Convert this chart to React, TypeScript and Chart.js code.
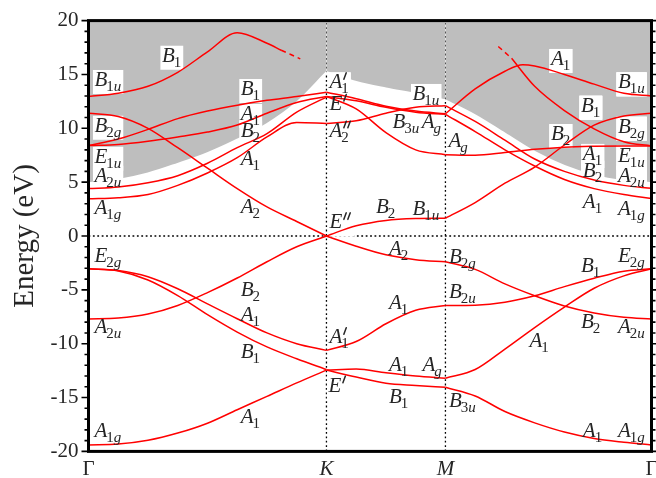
import React, { useEffect, useRef } from 'react';
import { Chart, registerables } from 'chart.js';

Chart.register(...registerables);

const FONT = '"Liberation Serif", "DejaVu Serif", serif';
const G_END = 4.732;

// high-symmetry path positions and names
const xTickPos = [0, 2, 3, G_END];
const xTickNames = ['Γ', 'K', 'M', 'Γ'];

// k grids for each path segment
const kGK = [0, 0.25, 0.5, 0.75, 1, 1.25, 1.5, 1.75, 2];
const kKM = [2, 2.25, 2.5, 2.75, 3];
const kMG = [3, 3.25, 3.5, 3.75, 4, 4.25, 4.5, G_END];
const kGKTop = [0, 0.25, 0.5, 0.75, 1, 1.25, 1.5, 1.62];
const kGKTopDash = [1.62, 1.7, 1.78];
const kMGTop = [3, 3.25, 3.5, 3.65, 3.75, 4, 4.25, 4.5, G_END];
const kMGB1Dash = [3.444, 3.5, 3.556];
const kMGB1 = [3.556, 3.75, 4, 4.25, 4.5, G_END];

// edge of the grey continuum region (eV)
const edgeGK = [4.9, 5.2, 5.8, 6.7, 7.7, 8.95, 10.4, 12.4, 15.2];
const edgeKM = [15.2, 14.3, 13.7, 13.2, 12.6];
const edgeMG = [12.6, 11.2, 9.5, 7.8, 6.5, 5.6, 5.1, 4.9];

// Γ–K bands (eV)
const gkB1uTop = [12.95, 13.25, 13.9, 15.2, 17.1, 18.88, 17.9, 17.25];
const gkB1uTopDash = [17.25, 16.85, 16.45];
const gkA2 = [11.4, 11.1, 10.0, 8.2, 6.3, 4.4, 2.7, 1.35, 0];
const gkB1 = [8.4, 9.0, 9.9, 10.9, 11.6, 12.15, 12.6, 12.95, 13.35];
const gkA1 = [8.4, 8.5, 8.8, 9.2, 9.65, 10.3, 11.4, 12.4, 12.95];
const gkB2 = [4.4, 4.55, 4.95, 5.6, 6.75, 8.2, 9.5, 11.5, 12.9];
const gkA1g = [3.45, 3.55, 3.85, 4.7, 5.85, 7.27, 9.2, 10.55, 10.45];
const gkB2v = [-7.7, -7.62, -7.25, -6.45, -5.26, -3.9, -2.39, -1.0, 0];
const gkA1v = [-3.05, -3.2, -3.78, -4.9, -6.3, -7.68, -9.0, -10.0, -10.62];
const gkB1v = [-3.05, -3.25, -4.08, -5.53, -7.3, -8.92, -10.3, -11.4, -12.4];
const gkA1b = [-19.4, -19.32, -18.97, -18.3, -17.38, -16.13, -14.89, -13.64, -12.45];

// K–M bands (eV)
const kmB3u = [13.35, 12.75, 12.05, 11.6, 11.35];
const kmAgU = [12.95, 12.55, 11.95, 11.5, 11.3];
const kmAgL = [12.95, 11.8, 9.6, 8.0, 7.55];
const kmB1u = [10.45, 10.7, 11.4, 11.95, 12.1];
const kmB2 = [0, 0.95, 1.45, 1.62, 1.65];
const kmA2 = [0, -0.95, -1.75, -2.2, -2.4];
const kmA1 = [-10.62, -9.8, -8.15, -6.9, -6.45];
const kmA1b = [-12.45, -12.35, -12.7, -13.0, -13.2];
const kmB1b = [-12.45, -13.1, -13.68, -13.88, -14.05];

// M–Γ bands (eV)
const mgA1Top = [11.35, 13.66, 15.3, 15.9, 15.78, 15.0, 14.1, 13.25, 13.0];
const mgB1Dash = [17.6, 17.05, 16.5];
const mgB1 = [16.5, 13.9, 11.65, 9.95, 8.75, 8.36];
const mgB2 = [12.1, 10.64, 8.9, 7.15, 6.0, 5.2, 4.7, 4.43];
const mgA1 = [11.3, 9.7, 8.0, 6.5, 5.25, 4.4, 3.85, 3.48];
const mgAg = [7.55, 7.5, 7.75, 8.05, 8.25, 8.33, 8.36, 8.36];
const mgB2b = [1.65, 3.1, 4.9, 6.4, 8.45, 10.3, 11.15, 11.4];
const mgB2v = [-2.4, -3.1, -4.45, -5.55, -6.5, -7.15, -7.55, -7.7];
const mgB1v = [-6.45, -6.42, -6.15, -5.55, -4.7, -3.92, -3.27, -3.05];
const mgA1v = [-13.2, -12.4, -10.5, -8.5, -6.6, -4.85, -3.7, -3.05];
const mgA1b = [-14.05, -14.85, -16.3, -17.35, -18.2, -18.8, -19.15, -19.4];

// symmetry labels: [letter, number of primes, subscript, k, E]
const symLabels: [string, number, string, number, number][] = [
  ['B', 0, '1', 0.617, 16.18],
  ['B', 0, '1u', 0.05, 13.93],
  ['B', 0, '1', 1.28, 13.09],
  ['A', 0, '1', 1.28, 10.77],
  ['B', 0, '2', 1.28, 9.22],
  ['B', 0, '2g', 0.05, 9.68],
  ['E', 0, '1u', 0.05, 6.8],
  ['A', 0, '2u', 0.05, 5.04],
  ['A', 0, '1', 1.28, 6.59],
  ['A', 0, '1g', 0.05, 2.04],
  ['A', 0, '2', 1.28, 2.11],
  ['E', 0, '2g', 0.05, -2.39],
  ['A', 0, '2u', 0.05, -9.03],
  ['B', 0, '2', 1.28, -5.57],
  ['A', 0, '1', 1.28, -7.86],
  ['B', 0, '1', 1.28, -11.36],
  ['A', 0, '1', 1.28, -17.39],
  ['A', 0, '1g', 0.05, -18.64],
  ['A', 1, '1', 2.025, 13.71],
  ['E', 1, '', 2.025, 11.7],
  ['A', 2, '2', 2.025, 9.22],
  ['B', 0, '1u', 2.723, 12.63],
  ['B', 0, '3u', 2.555, 10.0],
  ['A', 0, 'g', 2.8, 10.0],
  ['A', 0, 'g', 3.025, 8.29],
  ['A', 0, '1', 3.887, 15.88],
  ['B', 0, '1u', 4.45, 13.71],
  ['B', 0, '1', 4.139, 11.54],
  ['B', 0, '2', 3.887, 8.91],
  ['B', 0, '2g', 4.45, 9.59],
  ['A', 0, '1', 4.155, 7.06],
  ['E', 0, '1u', 4.45, 6.9],
  ['B', 0, '2', 4.155, 5.51],
  ['A', 0, '2u', 4.45, 5.04],
  ['A', 0, '1', 4.155, 2.57],
  ['A', 0, '1g', 4.45, 1.95],
  ['E', 2, '', 2.025, 0.71],
  ['B', 0, '2', 2.416, 2.11],
  ['B', 0, '1u', 2.723, 1.95],
  ['A', 0, '2', 2.525, -1.76],
  ['B', 0, '2g', 3.029, -2.53],
  ['B', 0, '1', 4.139, -3.31],
  ['E', 0, '2g', 4.45, -2.39],
  ['A', 0, '1', 2.525, -6.81],
  ['B', 0, '2u', 3.029, -5.78],
  ['B', 0, '2', 4.139, -8.57],
  ['A', 0, '2u', 4.45, -9.03],
  ['A', 1, '1', 2.025, -9.96],
  ['A', 0, '1', 3.706, -10.33],
  ['A', 0, '1', 2.525, -12.51],
  ['A', 0, 'g', 2.807, -12.51],
  ['E', 1, '', 2.017, -14.46],
  ['B', 0, '1', 2.525, -15.53],
  ['B', 0, '3u', 3.029, -15.85],
  ['A', 0, '1', 4.155, -18.69],
  ['A', 0, '1g', 4.45, -18.69],
];

type Lab = [string, number, string, number, number];

const RED = '#ff0000';
const GREY = '#bebebe';
const INK = '#262626';

function pts(ks: number[], es: number[]) {
  return ks.map((k, i) => ({ x: k, y: es[i] }));
}
function band(ks: number[], es: number[], dashed = false) {
  return {
    data: pts(ks, es),
    showLine: true,
    borderColor: RED,
    borderWidth: 1.5,
    pointRadius: 0,
    borderDash: dashed ? [5, 4] : [],
    cubicInterpolationMode: 'monotone',
    fill: false,
    order: 0,
  };
}
function edge(ks: number[], es: number[]) {
  return {
    data: pts(ks, es),
    showLine: true,
    borderColor: '#ffffff',
    borderWidth: 2,
    pointRadius: 0,
    backgroundColor: GREY,
    fill: 'end',
    cubicInterpolationMode: 'monotone',
    order: 10,
  };
}

const MAIN_SIZE = 21;
const SUB_SIZE = 15;

function measureLabel(ctx: CanvasRenderingContext2D, lab: Lab) {
  const [main, primes, sub] = lab;
  ctx.font = `italic ${MAIN_SIZE}px ${FONT}`;
  const wMain = ctx.measureText(main).width;
  let wSub = 0;
  for (const ch of sub) {
    ctx.font = `${/[0-9]/.test(ch) ? '' : 'italic '}${SUB_SIZE}px ${FONT}`;
    wSub += ctx.measureText(ch).width;
  }
  const wPrime = primes ? 2 + primes * 4 : 0;
  return { wMain, wSub, total: wMain + Math.max(wSub - 1, wPrime) };
}

function drawLabel(ctx: CanvasRenderingContext2D, x: number, y: number, lab: Lab) {
  const [main, primes, sub] = lab;
  const m = measureLabel(ctx, lab);
  ctx.fillStyle = INK;
  ctx.textBaseline = 'alphabetic';
  ctx.textAlign = 'left';
  ctx.font = `italic ${MAIN_SIZE}px ${FONT}`;
  ctx.fillText(main, x, y);
  if (primes) {
    ctx.strokeStyle = INK;
    ctx.lineWidth = 1.5;
    ctx.lineCap = 'round';
    for (let p = 0; p < primes; p++) {
      const px = x + m.wMain + 1 + p * 4;
      ctx.beginPath();
      ctx.moveTo(px + 3, y - 15.5);
      ctx.lineTo(px + 0.6, y - 9);
      ctx.stroke();
    }
  }
  let sx = x + m.wMain - 1;
  for (const ch of sub) {
    ctx.font = `${/[0-9]/.test(ch) ? '' : 'italic '}${SUB_SIZE}px ${FONT}`;
    ctx.fillText(ch, sx, y + 5);
    sx += ctx.measureText(ch).width;
  }
}

const decor = {
  id: 'decor',
  beforeDatasetsDraw(chart: any) {
    const { ctx, chartArea: a, scales } = chart;
    ctx.save();
    ctx.strokeStyle = '#000';
    ctx.lineWidth = 1.3;
    ctx.setLineDash([1.8, 2.6]);
    for (const v of [2, 3]) {
      const x = scales.x.getPixelForValue(v);
      ctx.beginPath();
      ctx.moveTo(x, a.bottom);
      ctx.lineTo(x, a.top);
      ctx.stroke();
    }
    const y0 = scales.y.getPixelForValue(0);
    ctx.beginPath();
    ctx.moveTo(a.left, y0);
    ctx.lineTo(a.right, y0);
    ctx.stroke();
    ctx.restore();
  },
  afterDatasetDraw(chart: any, args: any) {
    if (chart.data.datasets[args.index].order !== 10) return;
    const { ctx, scales } = chart;
    ctx.save();
    ctx.fillStyle = '#ffffff';
    for (const lab of symLabels) {
      const x = scales.x.getPixelForValue(lab[3]);
      const y = scales.y.getPixelForValue(lab[4]);
      const m = measureLabel(ctx, lab);
      ctx.fillRect(x - 1.5, y - 16, m.total + 3.5, 24);
    }
    ctx.restore();
  },
  afterDatasetsDraw(chart: any) {
    const { ctx, scales } = chart;
    ctx.save();
    for (const lab of symLabels) {
      const x = scales.x.getPixelForValue(lab[3]);
      const y = scales.y.getPixelForValue(lab[4]);
      drawLabel(ctx, x, y, lab);
    }
    ctx.restore();
  },
  afterDraw(chart: any) {
    const { ctx, chartArea: a, scales } = chart;
    ctx.save();
    ctx.strokeStyle = '#000';
    ctx.lineWidth = 1.6;
    for (let v = -20; v <= 20; v++) {
      const y = scales.y.getPixelForValue(v);
      const major = v % 5 === 0;
      ctx.beginPath();
      ctx.moveTo(a.left - (major ? 7 : 4), y);
      ctx.lineTo(a.left, y);
      ctx.moveTo(a.right, y);
      ctx.lineTo(a.right + (major ? 6 : 4), y);
      ctx.stroke();
    }
    ctx.lineWidth = 3;
    ctx.strokeRect(a.left, a.top, a.right - a.left, a.bottom - a.top);
    ctx.restore();
  },
};

export default function App() {
  const ref = useRef<HTMLCanvasElement>(null);
  useEffect(() => {
    const canvas = ref.current as HTMLCanvasElement;
    const datasets: any[] = [
      edge(kGK, edgeGK),
      edge(kKM, edgeKM),
      edge(kMG, edgeMG),
      band(kGKTop, gkB1uTop),
      band(kGKTopDash, gkB1uTopDash, true),
      band(kGK, gkA2),
      band(kGK, gkB1),
      band(kGK, gkA1),
      band(kGK, gkB2),
      band(kGK, gkA1g),
      band(kGK, gkB2v),
      band(kGK, gkA1v),
      band(kGK, gkB1v),
      band(kGK, gkA1b),
      band(kKM, kmB3u),
      band(kKM, kmAgU),
      band(kKM, kmAgL),
      band(kKM, kmB1u),
      band(kKM, kmB2),
      band(kKM, kmA2),
      band(kKM, kmA1),
      band(kKM, kmA1b),
      band(kKM, kmB1b),
      band(kMGTop, mgA1Top),
      band(kMGB1Dash, mgB1Dash, true),
      band(kMGB1, mgB1),
      band(kMG, mgB2),
      band(kMG, mgA1),
      band(kMG, mgAg),
      band(kMG, mgB2b),
      band(kMG, mgB2v),
      band(kMG, mgB1v),
      band(kMG, mgA1v),
      band(kMG, mgA1b),
    ];
    const chart = new Chart(canvas, {
      type: 'scatter',
      data: { datasets },
      options: {
        responsive: false,
        animation: false,
        devicePixelRatio: 1,
        events: [],
        layout: { autoPadding: false, padding: { left: 0, right: 4.5, top: 20.6, bottom: 0 } },
        plugins: { legend: { display: false }, tooltip: { enabled: false } },
        scales: {
          x: {
            type: 'linear',
            min: 0,
            max: G_END,
            afterBuildTicks: (s: any) => {
              s.ticks = xTickPos.map((v) => ({ value: v }));
            },
            afterFit: (s: any) => {
              s.height = 26.6;
              s.paddingLeft = 0;
              s.paddingRight = 0;
            },
            grid: { display: false, drawTicks: false },
            border: { display: false },
            ticks: {
              autoSkip: false,
              maxRotation: 0,
              padding: 5,
              color: INK,
              font: (c: any) => ({
                family: FONT,
                size: 21,
                style: c.tick && (c.tick.value === 2 || c.tick.value === 3) ? 'italic' : 'normal',
              }),
              callback: (v: any) => {
                const i = xTickPos.indexOf(Number(v));
                return i >= 0 ? xTickNames[i] : '';
              },
            },
          },
          y: {
            min: -20,
            max: 20,
            afterFit: (s: any) => {
              s.width = 88.5;
              s.paddingTop = 0;
              s.paddingBottom = 0;
            },
            grid: { display: false, drawTicks: false },
            border: { display: false },
            ticks: {
              stepSize: 5,
              padding: 10,
              color: INK,
              font: { family: FONT, size: 21 },
              callback: (v: any) => String(v),
            },
            title: {
              display: true,
              text: 'Energy (eV)',
              color: INK,
              font: { family: FONT, size: 29 },
              padding: { top: 8, bottom: 0 },
            },
          },
        },
      } as any,
      plugins: [decor],
    });
    return () => chart.destroy();
  }, []);
  return (
    <div style={{ position: 'absolute', left: 0, top: 0, width: 656, height: 478, background: '#fff' }}>
      <canvas ref={ref} width={656} height={478} style={{ display: 'block' }} />
    </div>
  );
}
